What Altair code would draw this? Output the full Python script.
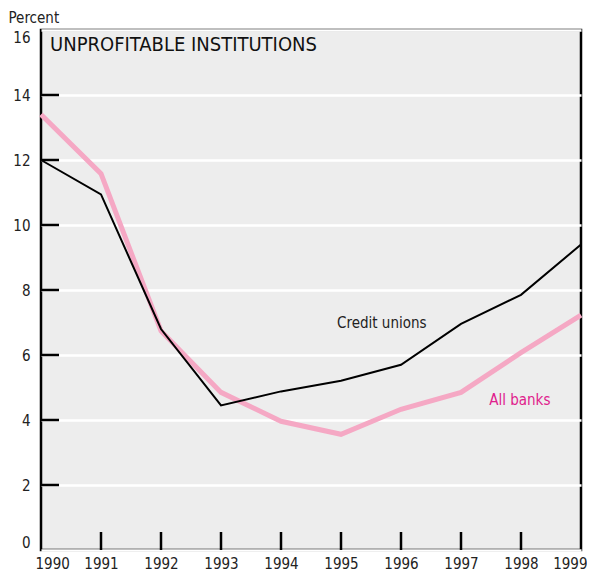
import altair as alt
import pandas as pd

years = [1990, 1991, 1992, 1993, 1994, 1995, 1996, 1997, 1998, 1999]
credit_unions = [12.0, 10.94, 6.8, 4.45, 4.88, 5.21, 5.7, 6.96, 7.85, 9.4]
all_banks = [13.4, 11.58, 6.74, 4.85, 3.96, 3.56, 4.33, 4.85, 6.07, 7.23]
y_ticks = [2, 4, 6, 8, 10, 12, 14]
x_ticks = [1991, 1992, 1993, 1994, 1995, 1996, 1997, 1998]

FONT = "Liberation Sans Narrow, DejaVu Sans Condensed, Roboto, sans-serif"
PINK = "#F5A8C4"
MAGENTA = "#E0218C"
W, H = 540, 520

df = pd.DataFrame({"year": years, "cu": credit_unions, "ab": all_banks})

xs = alt.Scale(domain=[1990, 1999], nice=False, zero=False)
ys = alt.Scale(domain=[0, 16], nice=False)

xaxis = alt.Axis(values=years, format="d", title=None, grid=False, domain=False,
                 ticks=False, labelFont=FONT, labelFontSize=15, labelColor="#222",
                 labelPadding=6, labelFlush=True, labelFlushOffset=6,
                 labelOverlap=False)
yaxis = alt.Axis(values=list(range(0, 17, 2)), title="Percent", grid=True,
                 gridColor="white", gridWidth=2.5, domain=False, ticks=False,
                 labelFont=FONT, labelFontSize=15, labelColor="#222",
                 labelPadding=11, labelFlush=True, labelOverlap=False,
                 titleAngle=0, titleX=-33, titleY=-13, titleAlign="left",
                 titleBaseline="middle", titleFont=FONT, titleFontSize=15,
                 titleFontWeight="normal", titleColor="#222")

base = alt.Chart(df)
ab_line = base.mark_line(color=PINK, strokeWidth=5).encode(
    x=alt.X("year:Q", scale=xs, axis=xaxis),
    y=alt.Y("ab:Q", scale=ys, axis=yaxis),
)
cu_line = base.mark_line(color="black", strokeWidth=2).encode(
    x=alt.X("year:Q", scale=xs),
    y=alt.Y("cu:Q", scale=ys),
)

ytick_rules = alt.Chart(pd.DataFrame({"v": y_ticks})).mark_rule(
    color="black", strokeWidth=2.5).encode(
    x=alt.value(0), x2=alt.value(18), y=alt.Y("v:Q", scale=ys))
xtick_rules = alt.Chart(pd.DataFrame({"v": x_ticks})).mark_rule(
    color="black", strokeWidth=2.5).encode(
    x=alt.X("v:Q", scale=xs), y=alt.value(H), y2=alt.value(H - 18))

labels = pd.DataFrame({
    "year": [1995.68, 1997.98],
    "val": [7.0, 4.63],
    "text": ["Credit unions", "All banks"],
    "col": ["#222222", MAGENTA],
})
label_text = alt.Chart(labels).mark_text(font=FONT, fontSize=15, align="center",
                                         baseline="middle").encode(
    x=alt.X("year:Q", scale=xs), y=alt.Y("val:Q", scale=ys),
    text="text:N", color=alt.Color("col:N", scale=None))

title_text = alt.Chart(pd.DataFrame({"t": ["UNPROFITABLE INSTITUTIONS"]})).mark_text(
    font=FONT, fontSize=20, align="left", baseline="middle", color="#111").encode(
    x=alt.value(9), y=alt.value(15), text="t:N")

chart = alt.layer(ab_line, cu_line, ytick_rules, xtick_rules, label_text, title_text).properties(
    width=W, height=H,
    autosize=alt.AutoSizeParams(type="none"),
    padding={"left": 33, "top": 22, "right": 6, "bottom": 26},
).configure_view(fill="#EDEDED", stroke="black", strokeWidth=2.5)

chart.save("out.html", embed_options={"renderer": "svg", "actions": False})
